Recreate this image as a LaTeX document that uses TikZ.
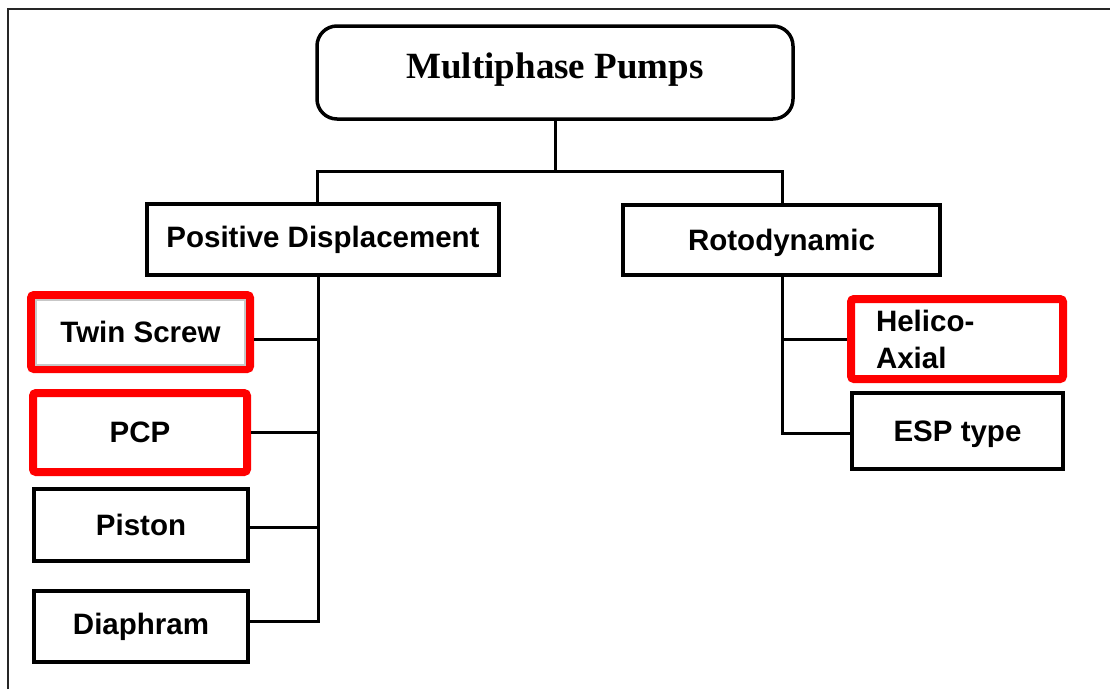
\documentclass[tikz,border=0pt]{standalone}
\usepackage{fontspec}
\setmainfont{Liberation Serif}
\setsansfont{Liberation Sans}

\begin{document}
\begin{tikzpicture}
  [x=1pt,y=-1pt,
   main node/.style={rectangle,draw,line width=3.5pt,inner sep=0pt,
     font=\sffamily\bfseries\fontsize{29.5}{37}\selectfont},
   red node/.style={main node,draw=red,line width=8pt,rounded corners=3pt},
   link/.style={line width=3pt}]
  \useasboundingbox (0,0) rectangle (1110,689);
  \draw[line width=2pt,black!85] (8,689) -- (8,9) -- (1110,9);

  \node[main node,rounded corners=20pt,text depth=14pt,
    font=\rmfamily\bfseries\fontsize{37}{44}\selectfont,
    minimum width=476pt,minimum height=93pt] (mp) at (555,72.5) {Multiphase Pumps};
  \node[main node,minimum width=352pt,minimum height=71pt] (pd) at (323,239.5) {Positive Displacement};
  \node[main node,text depth=0pt,minimum width=317pt,minimum height=70pt] (rd) at (781.5,240) {Rotodynamic};

  \node[red node,minimum width=219pt,minimum height=74pt] (ts) at (140.5,332) {Twin Screw};
  \node[red node,minimum width=214pt,minimum height=79pt] (pcp) at (140,432.5) {PCP};
  \node[main node,minimum width=214pt,minimum height=72pt] (pst) at (141,525) {Piston};
  \node[main node,minimum width=214pt,minimum height=71pt] (dia) at (141,626.5) {Diaphram};

  \node[red node,minimum width=212pt,minimum height=80pt,text width=162pt,align=left] (ha) at (957,339) {Helico-\\Axial};
  \node[main node,text depth=0pt,minimum width=211pt,minimum height=76pt] (esp) at (957.5,431) {ESP type};

  % inner frame
  \draw[black!22,line width=2pt] ([shift={(9pt,-8.5pt)}]ts.north west) rectangle ([shift={(-9pt,8pt)}]ts.south east);

  % connectors
  \coordinate (split) at (555,171);
  \coordinate (lt) at ([xshift=-5pt]pd.south);
  \coordinate (rt) at ([xshift=1pt]rd.south);
  \path (mp.south) [-, link] edge (split);
  \draw[link] ([xshift=-6pt]pd.north) |- (split) -| ([xshift=1pt]rd.north);
  \foreach \n/\s in {ts/-7pt,pcp/0pt,pst/-2pt,dia/5.5pt}
    \draw[link] (lt) |- ([yshift=\s]\n.east);
  \foreach \n/\s in {ha/0pt,esp/-2pt}
    \draw[link] (rt) |- ([yshift=\s]\n.west);
\end{tikzpicture}
\end{document}
